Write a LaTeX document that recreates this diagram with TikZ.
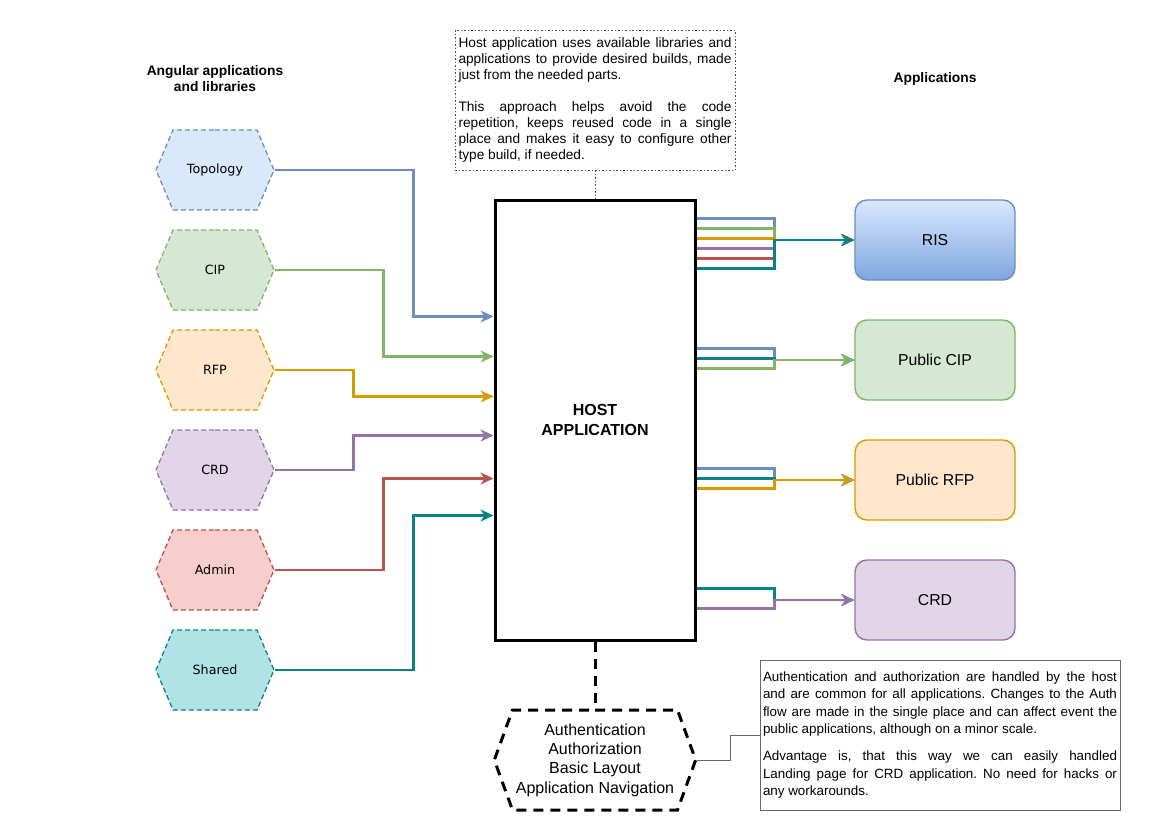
\documentclass[tikz,border=0pt]{standalone}
\usepackage{fontspec}
\setmainfont{Liberation Sans}
\newfontfamily\hexfont{DejaVu Sans}
\usepackage{tikz}
\usetikzlibrary{arrows.meta,shapes.symbols}
\frenchspacing

\definecolor{bluefill}{HTML}{DAE8FC}
\definecolor{bluedraw}{HTML}{6C8EBF}
\definecolor{risdark}{HTML}{7EA6E0}
\definecolor{greenfill}{HTML}{D5E8D4}
\definecolor{greendraw}{HTML}{82B366}
\definecolor{orangefill}{HTML}{FFE6CC}
\definecolor{orangedraw}{HTML}{D79B00}
\definecolor{purplefill}{HTML}{E1D5E7}
\definecolor{purpledraw}{HTML}{9673A6}
\definecolor{redfill}{HTML}{F8CECC}
\definecolor{reddraw}{HTML}{B85450}
\definecolor{tealfill}{HTML}{B0E3E6}
\definecolor{tealdraw}{HTML}{0E8088}

\begin{document}
\begin{tikzpicture}[x=1pt,y=-1pt,>={Stealth[length=13pt,width=12pt,inset=4pt]},
    hexa/.style={signal,signal to=east and west,signal pointer angle=134,minimum width=118pt,minimum height=80pt,
      inner sep=0pt,line width=1.3pt,dash pattern=on 5pt off 3pt,font=\hexfont\fontsize{12.7}{15}\selectfont},
    app/.style={rectangle,rounded corners=12pt,minimum width=160pt,minimum height=80pt,line width=1.4pt,
      font=\fontsize{15.8}{18}\selectfont},
    link/.style={->,line width=2.5pt},
    heading/.style={align=center,font=\bfseries\fontsize{13.8}{16}\selectfont},
    thickdash/.style={line width=3pt,dash pattern=on 10pt off 7pt}]
    \useasboundingbox (0,0) rectangle (1169,827);

    % Column headings
    \node[heading] (libhead) at (215,79) {Angular applications\\and libraries};
    \node[heading] (apphead) at (935,79) {Applications};

    % Libraries
    \node[hexa,draw=bluedraw,fill=bluefill] (topo) at (215,170) {Topology};
    \node[hexa,draw=greendraw,fill=greenfill] (cip) at (215,270) {CIP};
    \node[hexa,draw=orangedraw,fill=orangefill] (rfp) at (215,370) {RFP};
    \node[hexa,draw=purpledraw,fill=purplefill] (crd) at (215,470) {CRD};
    \node[hexa,draw=reddraw,fill=redfill] (admin) at (215,570) {Admin};
    \node[hexa,draw=tealdraw,fill=tealfill] (shared) at (215,670) {Shared};

    % Host
    \node[draw,line width=3pt,minimum width=200pt,minimum height=440pt,align=center,
      font=\bfseries\fontsize{16}{20}\selectfont] (host) at (595,420) {HOST\\APPLICATION};

    % Applications
    \node[app,draw=bluedraw,top color=bluefill,bottom color=risdark] (ris) at (935,240) {RIS};
    \node[app,draw=greendraw,fill=greenfill] (pcip) at (935,360) {Public CIP};
    \node[app,draw=orangedraw,fill=orangefill] (prfp) at (935,480) {Public RFP};
    \node[app,draw=purpledraw,fill=purplefill] (pcrd) at (935,600) {CRD};

    % Notes
    \node[draw=black!70,line width=0.8pt,dash pattern=on 1.5pt off 2pt,text width=273pt,inner sep=3.5pt,
      minimum height=140pt,align=justify,font=\fontsize{13.7}{16}\selectfont] (topnote) at (595,100)
      {\tolerance=10000 Host application uses available libraries and\linebreak applications to provide desired builds, made\linebreak just from the needed parts.\par\vspace{16pt}
       This approach helps avoid the code\linebreak repetition, keeps reused code in a single\linebreak place and makes it easy to configure other\linebreak type build, if needed.};
    \node[draw=black!60,line width=0.8pt,text width=354pt,inner sep=3pt,minimum height=150pt,
      align=justify,font=\fontsize{13.4}{17.5}\selectfont] (authnote) at (940,735)
      {\tolerance=10000 Authentication and authorization are handled by the host\linebreak and are common for all applications. Changes to the Auth\linebreak flow are made in the single place and can affect event the\linebreak public applications, although on a minor scale.\par\vspace{9.5pt}
       Advantage is, that this way we can easily handled\linebreak Landing page for CRD application. No need for hacks or\linebreak any workarounds.};

    % Common part
    \node[signal,signal to=east and west,signal pointer angle=140,draw,thickdash,minimum width=200pt,
      minimum height=100pt,align=center,font=\fontsize{16}{19.3}\selectfont] (authhex) at (595,760)
      {Authentication\\Authorization\\Basic Layout\\Application Navigation};

    % Libraries to host
    \coordinate (in1) at ([yshift=-118pt]host.north west);
    \coordinate (in2) at ([yshift=-158pt]host.north west);
    \coordinate (in3) at ([yshift=-198pt]host.north west);
    \coordinate (in4) at ([yshift=-237pt]host.north west);
    \coordinate (in5) at ([yshift=-280pt]host.north west);
    \coordinate (in6) at ([yshift=-317pt]host.north west);
    \draw[link,bluedraw] (topo.east) -| ([xshift=-80pt]in1) -- (in1);
    \draw[link,greendraw] (cip.east) -| ([xshift=-110pt]in2) -- (in2);
    \draw[link,orangedraw] (rfp.east) -| ([xshift=-140pt]in3) -- (in3);
    \draw[link,purpledraw] (crd.east) -| ([xshift=-140pt]in4) -- (in4);
    \draw[link,reddraw] (admin.east) -| ([xshift=-110pt]in5) -- (in5);
    \draw[link,tealdraw] (shared.east) -| ([xshift=-80pt]in6) -- (in6);

    % Host to applications
    \coordinate (mris) at ([xshift=-80pt]ris.west);
    \coordinate (mcip) at ([xshift=-80pt]pcip.west);
    \coordinate (mrfp) at ([xshift=-80pt]prfp.west);
    \coordinate (mcrd) at ([xshift=-80pt]pcrd.west);
    \draw[link,bluedraw] ([yshift=-20pt]host.north east) -| (mris) -- (ris);
    \draw[link,greendraw] ([yshift=-30pt]host.north east) -| (mris) -- (ris);
    \draw[link,orangedraw] ([yshift=-40pt]host.north east) -| (mris) -- (ris);
    \draw[link,purpledraw] ([yshift=-50pt]host.north east) -| (mris) -- (ris);
    \draw[link,reddraw] ([yshift=-60pt]host.north east) -| (mris) -- (ris);
    \draw[link,tealdraw] ([yshift=-70pt]host.north east) -| (mris) -- (ris);
    \draw[link,bluedraw] ([yshift=-150pt]host.north east) -| (mcip) -- (pcip);
    \draw[link,tealdraw] ([yshift=-160pt]host.north east) -| (mcip) -- (pcip);
    \draw[link,greendraw] ([yshift=-170pt]host.north east) -| (mcip) -- (pcip);
    \draw[link,bluedraw] ([yshift=-270pt]host.north east) -| (mrfp) -- (prfp);
    \draw[link,tealdraw] ([yshift=-280pt]host.north east) -| (mrfp) -- (prfp);
    \draw[link,orangedraw] ([yshift=-290pt]host.north east) -| (mrfp) -- (prfp);
    \draw[link,tealdraw] ([yshift=-390pt]host.north east) -| (mcrd) -- (pcrd);
    \draw[link,purpledraw] ([yshift=-410pt]host.north east) -| (mcrd) -- (pcrd);

    % Notes and common part
    \draw[black!70,line width=0.8pt,dash pattern=on 1.5pt off 2pt] (topnote.south) -- (host.north);
    \draw[thickdash] (host.south) -- (authhex.north);
    \draw[black!60,line width=0.8pt] (authhex.east) -- ++(33,0) |- (authnote.west);
\end{tikzpicture}
\end{document}
